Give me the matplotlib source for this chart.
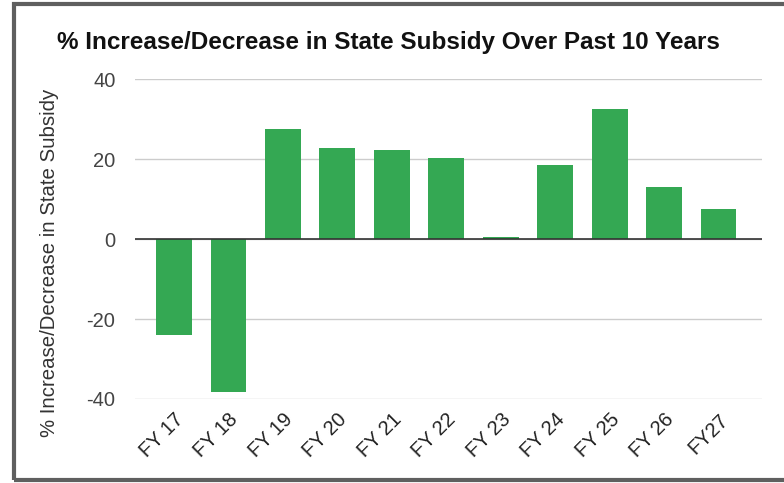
import matplotlib.pyplot as plt
from matplotlib.patches import Rectangle

years = ['FY 17', 'FY 18', 'FY 19', 'FY 20', 'FY 21', 'FY 22', 'FY 23', 'FY 24', 'FY 25', 'FY 26', 'FY27']
pct_change = [-24.0, -38.3, 27.5, 22.7, 22.3, 20.2, 0.5, 18.5, 32.5, 13.0, 7.5]

plt.rcParams['font.family'] = ['Liberation Sans', 'DejaVu Sans']
plt.rcParams['axes.unicode_minus'] = False

fig = plt.figure(figsize=(7.84, 4.83), dpi=100)
ax = fig.add_axes([0.172, 0.174, 0.8, 0.662])

x = range(len(years))
ax.bar(x, pct_change, width=0.66, color='#34a853', zorder=3)
ax.axhline(0, color='#333333', lw=1.2, zorder=4)

ax.set_ylim(-40, 40)
ax.set_xlim(-0.72, 10.8)
ax.set_yticks([-40, -20, 0, 20, 40])
ax.yaxis.grid(True, color='#cccccc', lw=1, zorder=0)
ax.set_xticks(list(x))
ax.set_xticklabels(years, rotation=45, ha='right', rotation_mode='anchor')
ax.tick_params(axis='both', length=0, labelsize=14.5)
ax.tick_params(axis='y', pad=14, labelcolor='#444444')
ax.tick_params(axis='x', pad=8, labelcolor='#222222')
for s in ax.spines.values():
    s.set_visible(False)

fig.text(50 / 784, 1 - 263 / 483, '% Increase/Decrease in State Subsidy', rotation=90,
         ha='center', va='center', fontsize=14.7, color='#333333')
fig.text(0.495, 0.912, '% Increase/Decrease in State Subsidy Over Past 10 Years',
         ha='center', va='center', fontsize=17.5, fontweight='bold', color='#111111')

# grey frame around the chart
fig.patches.append(Rectangle((14 / 784, 3 / 483), 800 / 784, 476 / 483,
                             transform=fig.transFigure, fill=False,
                             edgecolor='#5f5f5f', lw=3))

plt.savefig('out.png', dpi=100)
